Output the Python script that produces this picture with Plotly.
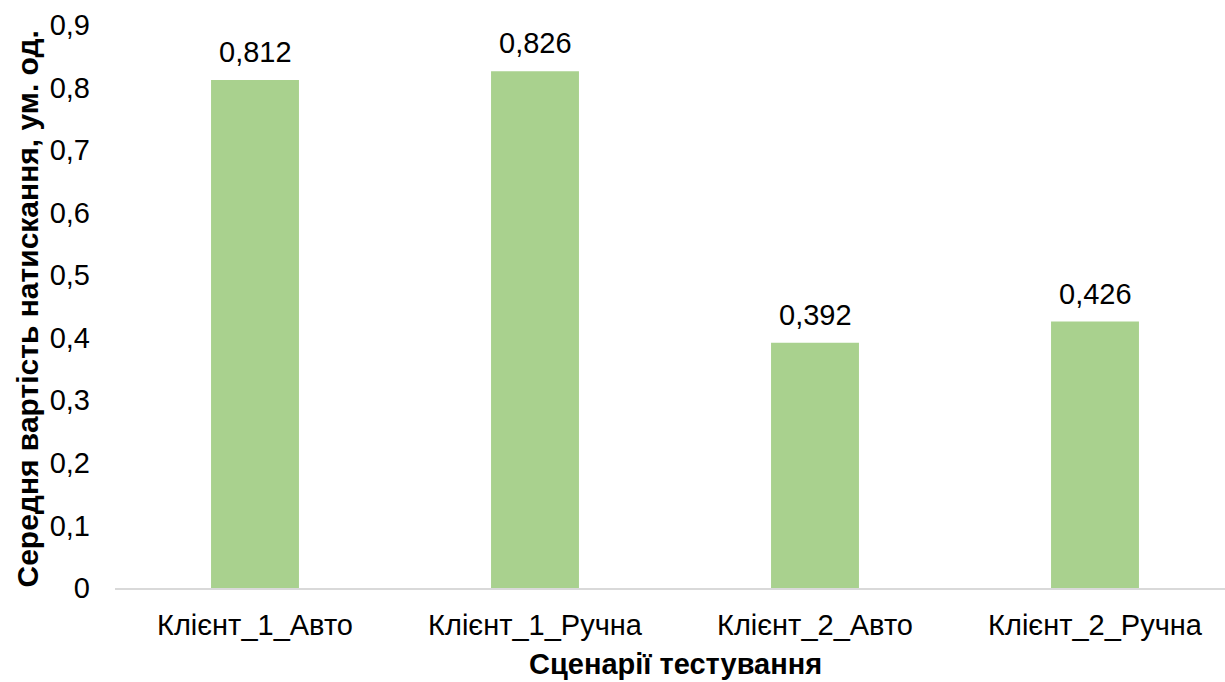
import plotly.graph_objects as go

categories = ["Клієнт_1_Авто", "Клієнт_1_Ручна", "Клієнт_2_Авто", "Клієнт_2_Ручна"]
values = [0.812, 0.826, 0.392, 0.426]
value_labels = ["0,812", "0,826", "0,392", "0,426"]
y_ticks = [0, 0.1, 0.2, 0.3, 0.4, 0.5, 0.6, 0.7, 0.8, 0.9]

FONT = "Liberation Sans, Arial, sans-serif"
TICK_SIZE = 29
TITLE_SIZE = 29

fig = go.Figure(go.Bar(
    x=list(range(len(categories))), y=values, width=0.314,
    marker=dict(color="#A9D18E", line=dict(width=0)),
))

for i, (v, t) in enumerate(zip(values, value_labels)):
    fig.add_annotation(x=i, y=v, text=t, showarrow=False, yanchor="middle",
                       yshift=28, font=dict(size=TICK_SIZE, color="#000000", family=FONT))

fig.add_annotation(xref="paper", yref="paper", x=(675 - 115) / 1110, y=0, yshift=-76,
                   text="<b>Сценарії тестування</b>", showarrow=False,
                   yanchor="middle", xanchor="center",
                   font=dict(size=TITLE_SIZE, color="#000000", family=FONT))
fig.add_annotation(xref="paper", yref="paper", x=0, xshift=-88, y=0.5, yshift=-3,
                   text="<b>Середня вартість натискання, ум. од.</b>", showarrow=False,
                   textangle=-90, xanchor="center", yanchor="middle",
                   font=dict(size=30, color="#000000", family=FONT))

fig.update_layout(
    width=1225, height=682,
    margin=dict(l=115, r=0, t=25, b=94),
    paper_bgcolor="white", plot_bgcolor="white",
    separators=", ",
    showlegend=False,
    font=dict(family=FONT, size=TICK_SIZE, color="#000000"),
    xaxis=dict(
        range=[-0.5, -0.5 + 1110 / 280],
        tickvals=list(range(len(categories))), ticktext=categories,
        showgrid=False, zeroline=False,
        showline=True, linecolor="#D9D9D9", linewidth=2,
        ticks="", ticklabelstandoff=10,
        tickfont=dict(size=TICK_SIZE, family=FONT, color="#000000"),
    ),
    yaxis=dict(
        range=[0, 0.9], tickvals=y_ticks,
        showgrid=False, zeroline=False, showline=False,
        ticks="", ticklabelstandoff=24,
        tickfont=dict(size=TICK_SIZE, family=FONT, color="#000000"),
    ),
)

fig.write_html("out.html")
